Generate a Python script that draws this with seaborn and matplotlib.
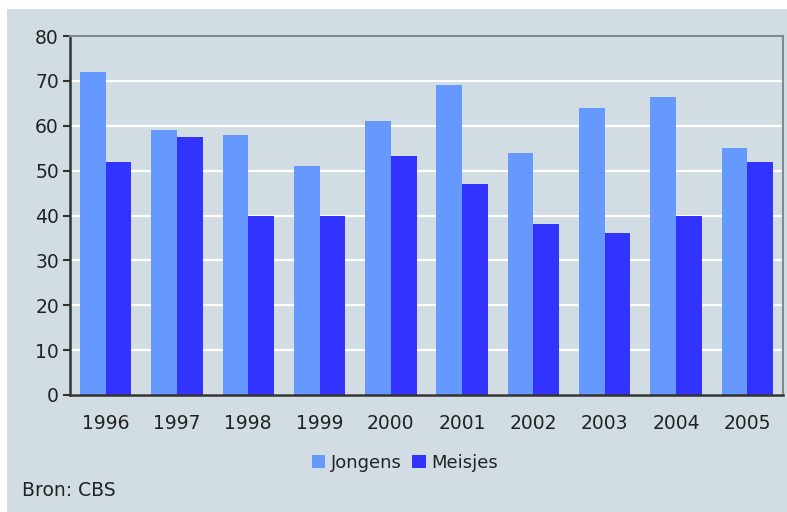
import pandas as pd
import matplotlib.pyplot as plt
import seaborn as sns
from matplotlib.patches import Rectangle

# Data
years = ['1996', '1997', '1998', '1999', '2000', '2001', '2002', '2003', '2004', '2005']
jongens = [72, 59, 58, 51, 61, 69, 54, 64, 66.3, 55]
meisjes = [52, 57.5, 40, 40, 53.3, 47, 38, 36.2, 40, 52]
series_names = ['Jongens', 'Meisjes']
y_ticks = [0, 10, 20, 30, 40, 50, 60, 70, 80]

bg = '#d2dde3'
colors = ['#6699ff', '#3333ff']

df = pd.DataFrame({
    'jaar': years * 2,
    'waarde': jongens + meisjes,
    'groep': [series_names[0]] * len(years) + [series_names[1]] * len(years),
})

sns.set_style('white')
plt.rcParams['font.family'] = ['DejaVu Sans']

fig = plt.figure(figsize=(7.87, 5.12), dpi=100, facecolor='white')
# panel background with small white margin at left/top
fig.patches.append(Rectangle((7 / 787, 0), 1, 1 - 9 / 512, transform=fig.transFigure,
                             facecolor=bg, edgecolor='none', zorder=-10))
ax = fig.add_axes([70 / 787, 1 - 395 / 512, (783 - 70) / 787, (395 - 36) / 512])
ax.set_facecolor(bg)

sns.barplot(data=df, x='jaar', y='waarde', hue='groep', palette=colors,
            width=0.72, gap=0, saturation=1, linewidth=0, edgecolor='none',
            ax=ax, legend=False)

ax.set_ylim(0, 80)
ax.set_xlim(-0.5, len(years) - 0.5)
ax.set_yticks(y_ticks)
ax.yaxis.grid(True, color='white', linewidth=1.6)
ax.set_axisbelow(True)
ax.set_xlabel('')
ax.set_ylabel('')

ax.tick_params(axis='y', direction='out', length=5, width=1.5, color='#333333',
               labelsize=13.5, labelcolor='#222222', pad=3, left=True)
ax.tick_params(axis='x', length=0, labelsize=13.5, labelcolor='#222222', pad=14)

for side in ['left', 'bottom']:
    ax.spines[side].set_color('#333333')
    ax.spines[side].set_linewidth(1.8)
for side in ['top', 'right']:
    ax.spines[side].set_color('#7f8a90')
    ax.spines[side].set_linewidth(1.5)

handles = [Rectangle((0, 0), 1, 1, facecolor=c, edgecolor='none') for c in colors]
fig.legend(handles, series_names, loc='center', bbox_to_anchor=(405 / 787, 1 - 463 / 512),
           ncol=2, frameon=False, fontsize=13, handlelength=0.75, handleheight=0.75,
           handletextpad=0.3, columnspacing=0.6, labelcolor='#222222')

fig.text(22 / 787, 1 - 490 / 512, 'Bron: CBS', fontsize=13.5, color='#222222',
         ha='left', va='center')

fig.savefig('out.png', dpi=100, facecolor='white')
